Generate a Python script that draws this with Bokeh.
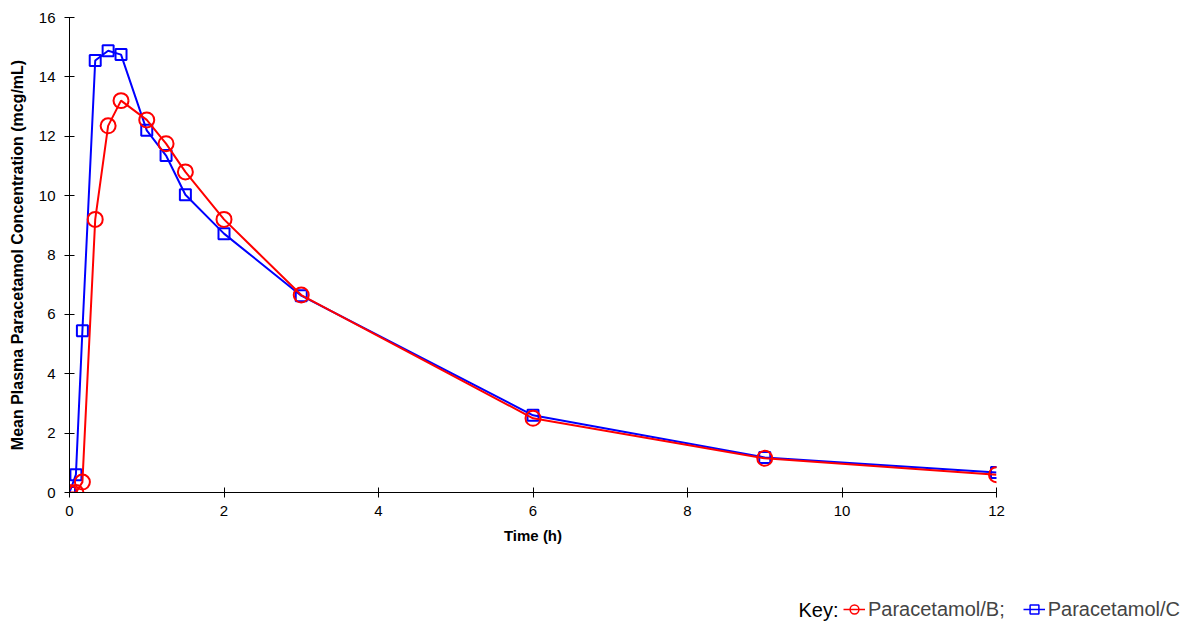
from bokeh.plotting import figure
from bokeh.models import Range1d, FixedTicker, Legend, LegendItem, Label, ColumnDataSource
from bokeh.embed import file_html
from bokeh.resources import INLINE

# Data
time_h = [0, 0.083, 0.167, 0.333, 0.5, 0.667, 1, 1.25, 1.5, 2, 3, 6, 9, 12]
conc_B = [0.0, 0.0, 0.35, 9.2, 12.35, 13.2, 12.55, 11.75, 10.8, 9.2, 6.65, 2.5, 1.15, 0.6]
conc_C = [0.0, 0.6, 5.45, 14.55, 14.88, 14.75, 12.2, 11.35, 10.03, 8.72, 6.63, 2.6, 1.18, 0.67]
x_ticks = [0, 2, 4, 6, 8, 10, 12]
y_ticks = [0, 2, 4, 6, 8, 10, 12, 14, 16]
series_labels = ["Paracetamol/B;", "Paracetamol/C"]

FONT = "Liberation Sans"
RED = "#ff0000"
BLUE = "#0000ff"

p = figure(width=1190, height=550, output_backend="svg", toolbar_location=None,
           x_range=Range1d(0, 12), y_range=Range1d(0, 16),
           min_border_left=69, min_border_right=194, min_border_top=17, min_border_bottom=58)
p.outline_line_color = None
p.grid.visible = False

for ax in (p.xaxis[0], p.yaxis[0]):
    ax.axis_line_color = "black"
    ax.axis_line_width = 1
    ax.major_tick_in = 5
    ax.major_tick_out = 5
    ax.major_tick_line_color = "black"
    ax.minor_tick_line_color = None
    ax.major_label_text_font = FONT
    ax.major_label_text_font_size = "15px"
    ax.major_label_text_color = "black"
    ax.axis_label_text_font = FONT
    ax.axis_label_text_font_style = "bold"
    ax.axis_label_text_color = "black"

p.xaxis.ticker = FixedTicker(ticks=x_ticks)
p.yaxis.ticker = FixedTicker(ticks=y_ticks)
p.xaxis.axis_label = "Time (h)"
p.yaxis.axis_label = "Mean Plasma Paracetamol Concentration (mcg/mL)"
p.xaxis.axis_label_text_font_size = "15px"
p.yaxis.axis_label_text_font_size = "16px"
p.xaxis.major_label_standoff = 8
p.yaxis.major_label_standoff = 9
p.xaxis.axis_label_standoff = 8
p.yaxis.axis_label_standoff = 10

src = ColumnDataSource(dict(t=time_h, b=conc_B, c=conc_C))

p.line("t", "c", source=src, line_color=BLUE, line_width=2)
p.scatter("t", "c", source=src, marker="square", size=11, line_color=BLUE,
          line_width=2, fill_color=None)
p.line("t", "b", source=src, line_color=RED, line_width=2)
p.scatter("t", "b", source=src, marker="circle", size=15, line_color=RED,
          line_width=2, fill_color=None)

# Key strip below the chart (separate root so it is not frame-aligned with the chart)
k = figure(width=1190, height=71, output_backend="svg", toolbar_location=None,
           x_range=Range1d(-2, -1), y_range=Range1d(-2, -1),
           x_axis_location=None, y_axis_location=None, min_border=0)
k.grid.visible = False
k.outline_line_color = None

kb_l = k.line("t", "b", source=src, line_color=RED, line_width=1.5)
kb_s = k.scatter("t", "b", source=src, marker="circle", size=12, line_color=RED,
                 line_width=1.5, fill_color=None)
kc_l = k.line("t", "c", source=src, line_color=BLUE, line_width=1.5)
kc_s = k.scatter("t", "c", source=src, marker="square", size=10, line_color=BLUE,
                 line_width=1.5, fill_color=None)

legend = Legend(items=[LegendItem(label=series_labels[0], renderers=[kb_l, kb_s]),
                       LegendItem(label=series_labels[1], renderers=[kc_l, kc_s])],
                orientation="horizontal", location=(843, 0),
                border_line_color=None, background_fill_alpha=0,
                padding=0, margin=0, spacing=18, label_standoff=3,
                glyph_width=22, glyph_height=24, label_height=20,
                label_text_font=FONT, label_text_font_size="20px",
                label_text_baseline="middle")
k.add_layout(legend, "center")

key = Label(x=798, y=12, x_units="screen", y_units="screen", text="Key:",
            text_font=FONT, text_font_size="20px", text_baseline="middle",
            text_color="black")
k.add_layout(key)

open("out.html", "w").write(file_html([p, k], INLINE))
